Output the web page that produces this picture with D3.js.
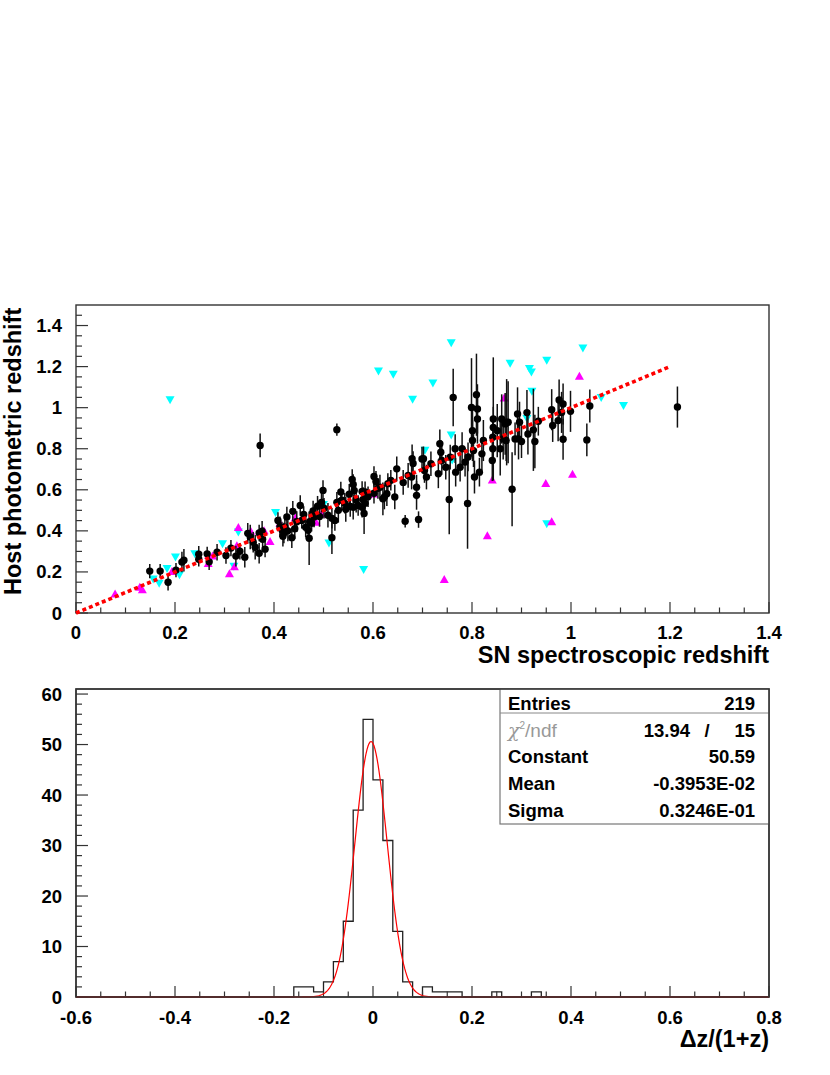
<!DOCTYPE html>
<html><head><meta charset="utf-8">
<script src="https://cdn.jsdelivr.net/npm/d3@7"></script>
<style>
body{margin:0;background:#fff}
svg{display:block}
text{font-family:"Liberation Sans",Arial,Helvetica,sans-serif;font-weight:bold;fill:#000}
</style>
</head><body>
<svg id="c" width="830" height="1075"></svg>
<script>
// ---------- DATA ----------
// SN spectroscopic z, host photometric z, error (black, with error bars)
const hostPoints = [
 [0.149,0.204,0.035],[0.170,0.204,0.035],[0.186,0.150,0.040],[0.202,0.209,0.035],[0.214,0.248,0.050],[0.218,0.257,0.055],
 [0.248,0.286,0.040],[0.248,0.262,0.035],[0.265,0.288,0.035],[0.269,0.249,0.040],[0.285,0.296,0.040],[0.303,0.280,0.040],
 [0.313,0.316,0.040],[0.323,0.277,0.050],[0.331,0.301,0.040],[0.341,0.272,0.050],[0.347,0.388,0.050],[0.352,0.370,0.060],
 [0.358,0.345,0.050],[0.362,0.320,0.060],[0.370,0.291,0.050],[0.370,0.390,0.040],[0.376,0.398,0.050],[0.377,0.359,0.060],
 [0.382,0.311,0.040],[0.372,0.816,0.058],
 [0.408,0.451,0.04],[0.412,0.420,0.05],[0.416,0.405,0.04],[0.420,0.390,0.05],[0.426,0.468,0.05],[0.422,0.418,0.04],
 [0.428,0.400,0.05],[0.418,0.374,0.05],[0.438,0.495,0.05],[0.442,0.410,0.05],[0.436,0.367,0.05],[0.453,0.524,0.05],
 [0.446,0.445,0.05],[0.456,0.451,0.04],[0.464,0.418,0.05],[0.472,0.445,0.05],[0.469,0.403,0.05],[0.471,0.364,0.13],
 [0.479,0.497,0.05],[0.481,0.468,0.05],[0.476,0.437,0.04],[0.460,0.480,0.04],
 [0.499,0.597,0.05],[0.496,0.539,0.05],[0.501,0.510,0.05],[0.509,0.476,0.06],[0.517,0.461,0.05],[0.523,0.451,0.05],
 [0.517,0.367,0.08],[0.527,0.539,0.05],[0.527,0.893,0.03],[0.535,0.589,0.05],[0.537,0.549,0.05],[0.543,0.534,0.05],
 [0.554,0.519,0.05],[0.558,0.650,0.05],[0.560,0.626,0.05],[0.562,0.597,0.05],[0.552,0.578,0.05],[0.566,0.549,0.06],
 [0.570,0.524,0.05],[0.578,0.592,0.05],[0.580,0.553,0.06],[0.578,0.515,0.05],[0.584,0.534,0.05],[0.582,0.485,0.10],
 [0.584,0.590,0.05],[0.590,0.566,0.05],[0.530,0.500,0.06],[0.545,0.505,0.06],[0.560,0.515,0.06],[0.488,0.520,0.05],
 [0.492,0.470,0.05],
 [0.602,0.665,0.05],[0.606,0.641,0.05],[0.602,0.583,0.05],[0.610,0.607,0.05],[0.614,0.613,0.06],[0.620,0.556,0.08],
 [0.623,0.565,0.06],[0.628,0.581,0.06],[0.630,0.630,0.05],[0.636,0.646,0.05],[0.644,0.565,0.06],[0.648,0.702,0.06],
 [0.661,0.636,0.06],[0.665,0.447,0.03],[0.671,0.670,0.06],[0.678,0.662,0.06],[0.679,0.751,0.07],[0.681,0.728,0.06],
 [0.688,0.613,0.06],[0.688,0.573,0.07],[0.692,0.455,0.04],[0.699,0.750,0.06],[0.702,0.751,0.06],[0.704,0.694,0.06],
 [0.708,0.662,0.06],[0.717,0.727,0.06],[0.732,0.678,0.07],[0.735,0.824,0.07],[0.737,0.783,0.06],[0.739,0.743,0.07],
 [0.747,0.710,0.06],[0.754,0.553,0.17],[0.756,0.759,0.06],[0.762,1.050,0.14],[0.766,0.800,0.07],[0.767,0.686,0.07],
 [0.776,0.710,0.07],[0.780,0.800,0.08],[0.786,0.735,0.07],[0.792,0.760,0.07],
 [0.791,0.533,0.22],[0.799,1.001,0.24],[0.801,0.888,0.12],[0.801,0.840,0.10],[0.803,0.791,0.08],[0.805,0.662,0.08],
 [0.809,1.063,0.20],[0.811,0.994,0.12],[0.811,0.945,0.12],[0.815,0.686,0.07],[0.820,0.775,0.08],[0.823,0.840,0.10],
 [0.843,0.945,0.30],[0.843,0.904,0.10],[0.842,0.856,0.10],[0.842,0.800,0.12],[0.841,0.743,0.10],[0.851,0.888,0.13],
 [0.857,0.800,0.13],[0.860,0.945,0.12],[0.863,0.848,0.10],[0.867,0.921,0.15],[0.870,0.929,0.21],[0.873,0.929,0.20],
 [0.869,0.840,0.10],[0.881,0.603,0.18],[0.887,0.848,0.08],[0.892,0.969,0.13],[0.894,0.848,0.10],[0.896,0.929,0.10],
 [0.900,0.835,0.08],[0.911,0.976,0.11],[0.913,0.872,0.10],[0.924,0.892,0.20],[0.927,0.835,0.13],[0.934,0.934,0.07],
 [0.961,0.990,0.10],[0.963,0.913,0.08],[0.974,0.937,0.10],[0.976,1.037,0.10],[0.981,0.977,0.10],[0.984,1.018,0.10],
 [0.984,0.846,0.10],[0.999,0.982,0.10],[1.032,0.843,0.08],[1.038,1.008,0.08],[1.215,1.003,0.10]
];
// cyan, down-pointing triangles
const cyanPoints = [
 [0.156,0.163],[0.168,0.142],[0.184,0.214],[0.190,1.036],[0.201,0.270],[0.209,0.184],[0.240,0.286],[0.296,0.335],
 [0.319,0.225],[0.328,0.392],[0.403,0.487],[0.500,0.526],[0.511,0.338],[0.581,0.210],[0.611,1.176],[0.641,1.160],
 [0.680,1.039],[0.705,0.790],[0.721,1.118],[0.758,1.314],[0.758,0.864],[0.760,0.743],[0.877,1.214],[0.911,0.945],
 [0.916,1.188],[0.920,1.171],[0.921,1.078],[0.951,1.228],[0.951,0.432],[1.024,1.288],[1.061,1.047],[1.106,1.008]
];
// magenta, up-pointing triangles
const magentaPoints = [
 [0.079,0.095],[0.129,0.128],[0.134,0.116],[0.194,0.204],[0.267,0.244],[0.268,0.282],[0.276,0.280],[0.310,0.194],
 [0.320,0.228],[0.328,0.419],[0.325,0.330],[0.353,0.400],[0.380,0.403],[0.392,0.351],[0.412,0.440],[0.443,0.466],
 [0.485,0.445],[0.496,0.485],[0.590,0.580],[0.602,0.582],[0.744,0.165],[0.831,0.379],[0.841,0.650],[0.865,1.050],
 [0.949,0.633],[0.961,0.447],[1.003,0.678],[1.017,1.155]
];
const diagonal = [[0,0],[1.2,1.2]];

// histogram of dz/(1+z): [bin low edge, count], bin width 0.02 (other bins empty)
const histRange = [-0.6, 0.8];
const histBinWidth = 0.02;
const histBins = [
 [-0.16,2],[-0.14,2],[-0.12,1],[-0.10,3],[-0.08,7],[-0.06,15],[-0.04,37],[-0.02,55],
 [0.00,43],[0.02,31],[0.04,13],[0.06,3],[0.10,2],[0.12,1],[0.14,1],[0.16,1],[0.24,1],[0.32,1]
];
// gaussian fit
const fitConstant = 50.59, fitMean = -0.3953e-2, fitSigma = 0.3246e-1;
const statsLabels = ["Entries","χ²/ndf","Constant","Mean","Sigma"];
const statsValues = ["219","13.94   /   15","50.59","-0.3953E-02","0.3246E-01"];

// tick labels
const topXTicks = [0,0.2,0.4,0.6,0.8,1,1.2,1.4];
const topYTicks = [0,0.2,0.4,0.6,0.8,1,1.2,1.4];
const histXTicks = [-0.6,-0.4,-0.2,0,0.2,0.4,0.6,0.8];
const histYTicks = [0,10,20,30,40,50,60];

// ---------- DRAW ----------
const svg = d3.select("#c");
const FRAME = "#333";
const TICKFONT = 18.5, TITLEFONT = 23.5, STATFONT = 18.5;

const xTop = d3.scaleLinear().domain([0,1.4]).range([76,769]);
const yTop = d3.scaleLinear().domain([0,1.5]).range([613,305]);
const xH = d3.scaleLinear().domain(histRange).range([76,769]);
const yH = d3.scaleLinear().domain([0,61]).range([997,689]);

function ticks(g, xs, ys, xMinor, yMinor, xMajorStep, yMajorStep){
  const [x0,x1] = xs.range(), [y0,y1] = ys.range();
  xMinor.forEach(v=>{
    const maj = Math.abs(v/xMajorStep - Math.round(v/xMajorStep))<1e-6;
    g.append("line").attr("x1",xs(v)).attr("x2",xs(v)).attr("y1",y0).attr("y2",y0-(maj?11:5.5))
      .attr("stroke",FRAME).attr("stroke-width",1.2);
  });
  yMinor.forEach(v=>{
    const maj = Math.abs(v/yMajorStep - Math.round(v/yMajorStep))<1e-6;
    g.append("line").attr("x1",x0).attr("x2",x0+(maj?12:6)).attr("y1",ys(v)).attr("y2",ys(v))
      .attr("stroke",FRAME).attr("stroke-width",1.2);
  });
}
function frame(g, xs, ys){
  const [x0,x1] = xs.range(), [y0,y1] = ys.range();
  g.append("rect").attr("x",x0).attr("y",y1).attr("width",x1-x0).attr("height",y0-y1)
    .attr("fill","none").attr("stroke",FRAME).attr("stroke-width",1.4);
}
const lbl = d => String(d);

// ===== Top scatter plot =====
const gT = svg.append("g");
frame(gT, xTop, yTop);
ticks(gT, xTop, yTop, d3.range(0,1.4001,0.05), d3.range(0,1.4501,0.05), 0.2, 0.2);
gT.selectAll("text.xl").data(topXTicks).enter().append("text")
  .attr("x",d=>xTop(d)).attr("y",639).attr("text-anchor","middle").attr("font-size",TICKFONT).text(lbl);
gT.selectAll("text.yl").data(topYTicks).enter().append("text")
  .attr("x",62).attr("y",d=>yTop(d)+6.5).attr("text-anchor","end").attr("font-size",TICKFONT).text(lbl);
gT.append("text").attr("x",769).attr("y",663).attr("text-anchor","end").attr("font-size",TITLEFONT)
  .text("SN spectroscopic redshift");
gT.append("text").attr("transform","translate(21,595) rotate(-90)").attr("text-anchor","start").attr("font-size",TITLEFONT)
  .text("Host photometric redshift");

const tri = (w,h,up)=> up ? `M0,${-h/2}L${w/2},${h/2}L${-w/2},${h/2}Z` : `M0,${h/2}L${w/2},${-h/2}L${-w/2},${-h/2}Z`;
gT.selectAll("path.cy").data(cyanPoints).enter().append("path")
  .attr("d",tri(9,8,false)).attr("transform",d=>`translate(${xTop(d[0])},${yTop(d[1])})`).attr("fill","#00ffff");
gT.selectAll("path.mg").data(magentaPoints).enter().append("path")
  .attr("d",tri(9,8,true)).attr("transform",d=>`translate(${xTop(d[0])},${yTop(d[1])})`).attr("fill","#ff00ff");
gT.selectAll("line.err").data(hostPoints).enter().append("line")
  .attr("x1",d=>xTop(d[0])).attr("x2",d=>xTop(d[0]))
  .attr("y1",d=>yTop(d[1]-d[2])).attr("y2",d=>yTop(d[1]+d[2]))
  .attr("stroke","#111").attr("stroke-width",1.5);
gT.selectAll("circle.pt").data(hostPoints).enter().append("circle")
  .attr("cx",d=>xTop(d[0])).attr("cy",d=>yTop(d[1])).attr("r",3.7).attr("fill","#000");
gT.append("path").datum(diagonal)
  .attr("d",d3.line().x(d=>xTop(d[0])).y(d=>yTop(d[1])))
  .attr("stroke","#ff0000").attr("stroke-width",3.6).attr("stroke-dasharray","4 3").attr("fill","none");

// ===== Bottom histogram =====
const gH = svg.append("g");
const nBins = Math.round((histRange[1]-histRange[0])/histBinWidth);
const counts = new Array(nBins).fill(0);
histBins.forEach(([lo,c])=>{ counts[Math.round((lo-histRange[0])/histBinWidth)] = c; });
const stepPts = [];
counts.forEach((c,i)=>{
  const lo = histRange[0]+i*histBinWidth, hi = lo+histBinWidth;
  stepPts.push([lo,c],[hi,c]);
});
gH.append("path").datum(stepPts)
  .attr("d",d3.line().x(d=>xH(d[0])).y(d=>yH(d[1])))
  .attr("fill","none").attr("stroke","#222").attr("stroke-width",1.3);

frame(gH, xH, yH);
ticks(gH, xH, yH, d3.range(-0.6,0.8001,0.05), d3.range(0,60.001,2), 0.2, 10);

const fx = d3.range(histRange[0], histRange[1]+1e-9, 0.002);
gH.append("path").datum(fx)
  .attr("d",d3.line().x(d=>xH(d)).y(d=>yH(fitConstant*Math.exp(-0.5*Math.pow((d-fitMean)/fitSigma,2)))))
  .attr("fill","none").attr("stroke","#ff0000").attr("stroke-width",1.2);

gH.selectAll("text.xl").data(histXTicks).enter().append("text")
  .attr("x",d=>xH(d)).attr("y",1024).attr("text-anchor","middle").attr("font-size",TICKFONT).text(lbl);
gH.selectAll("text.yl").data(histYTicks).enter().append("text")
  .attr("x",62).attr("y",d=>yH(d)+6.5).attr("text-anchor","end").attr("font-size",TICKFONT).text(lbl);
gH.append("text").attr("x",769).attr("y",1047).attr("text-anchor","end").attr("font-size",TITLEFONT).text("Δz/(1+z)");

// stats box
const sb = gH.append("g");
sb.append("rect").attr("x",500).attr("y",689).attr("width",269).attr("height",135)
  .attr("fill","#fff").attr("stroke","#777").attr("stroke-width",1.2);
sb.append("line").attr("x1",500).attr("x2",769).attr("y1",713).attr("y2",713).attr("stroke","#888").attr("stroke-width",1);
sb.append("rect").attr("x",76).attr("y",689).attr("width",693).attr("height",308).attr("fill","none").attr("stroke",FRAME).attr("stroke-width",1.4);
const rowY = [710,737,763,790,817];
statsLabels.forEach((lab,i)=>{
  if(i===1){
    const t = sb.append("text").attr("x",508).attr("y",rowY[i]).attr("font-size",19)
      .style("font-weight","300").style("fill","#999");
    t.append("tspan").attr("font-family","DejaVu Serif").style("font-style","italic").text("χ");
    t.append("tspan").attr("font-size",10).attr("dy",-8).text("2");
    t.append("tspan").attr("dy",8).text("/ndf");
  } else {
    sb.append("text").attr("x",508).attr("y",rowY[i]).attr("font-size",STATFONT).text(lab);
  }
});
statsValues.forEach((v,i)=>{
  if(i===1){
    const parts = v.split("/").map(s=>s.trim());
    sb.append("text").attr("x",690).attr("y",rowY[i]).attr("text-anchor","end").attr("font-size",STATFONT).text(parts[0]);
    sb.append("text").attr("x",707).attr("y",rowY[i]).attr("text-anchor","middle").attr("font-size",STATFONT).text("/");
    sb.append("text").attr("x",755).attr("y",rowY[i]).attr("text-anchor","end").attr("font-size",STATFONT).text(parts[1]);
  } else {
    sb.append("text").attr("x",755).attr("y",rowY[i]).attr("text-anchor","end").attr("font-size",STATFONT).text(v);
  }
});
</script>
</body></html>
